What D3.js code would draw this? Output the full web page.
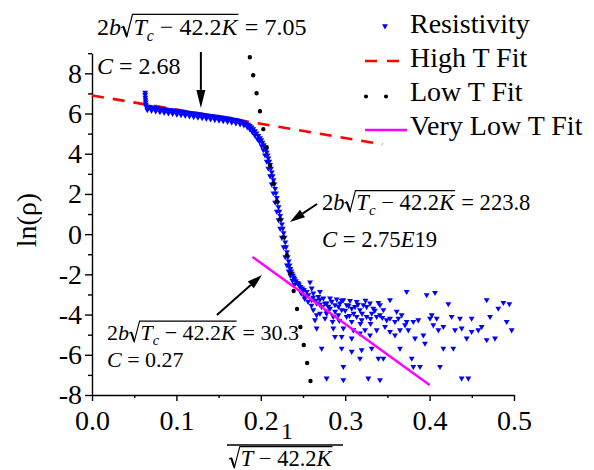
<!DOCTYPE html>
<html><head><meta charset="utf-8">
<script src="https://cdn.jsdelivr.net/npm/d3@7"></script>
<style>html,body{margin:0;padding:0;background:#fff;} svg{display:block;font-family:"Liberation Serif","Times New Roman",serif;}</style>
</head><body><svg id="c" width="594" height="470"></svg>
<script>
// ---------- data ----------
const xTicks = [0, 0.1, 0.2, 0.3, 0.4, 0.5];
const xMinor = [0.05, 0.15, 0.25, 0.35, 0.45];
const yTicks = [-8, -6, -4, -2, 0, 2, 4, 6, 8];
const yMinor = [-7, -5, -3, -1, 1, 3, 5, 7, 9];

// dense part of the resistivity curve (centre of the band)
const curveX = [0.0630,0.0630,0.0632,0.0634,0.0636,0.0638,0.0640,0.0660,0.0680,0.0700,0.0725,0.0750,0.0775,0.0800,0.0825,0.0850,0.0875,0.0900,0.0925,0.0950,0.0975,0.1000,0.1025,0.1050,0.1075,0.1100,0.1125,0.1150,0.1175,0.1200,0.1225,0.1250,0.1275,0.1300,0.1325,0.1350,0.1375,0.1400,0.1425,0.1450,0.1475,0.1500,0.1525,0.1550,0.1575,0.1600,0.1625,0.1650,0.1675,0.1700,0.1725,0.1750,0.1775,0.1800,0.1825,0.1850,0.1870,0.1890,0.1910,0.1930,0.1950,0.1970,0.1990,0.2005,0.2020,0.2035,0.2050,0.2060,0.2070,0.2080,0.2090,0.2100,0.2110,0.2120,0.2130,0.2140,0.2150,0.2160,0.2170,0.2180,0.2190,0.2200,0.2210,0.2220,0.2230,0.2240,0.2250,0.2260,0.2270,0.2280,0.2290,0.2300,0.2310,0.2320,0.2330,0.2340,0.2350,0.2360,0.2370,0.2380,0.2390,0.2400,0.2415,0.2430,0.2450,0.2470,0.2490,0.2510];
const curveY = [7.05,6.93,6.80,6.68,6.56,6.45,6.37,6.35,6.34,6.32,6.30,6.29,6.27,6.25,6.24,6.22,6.21,6.19,6.18,6.16,6.15,6.13,6.12,6.10,6.09,6.07,6.06,6.04,6.03,6.01,6.00,5.98,5.97,5.95,5.94,5.92,5.91,5.89,5.88,5.86,5.85,5.83,5.82,5.80,5.78,5.77,5.75,5.73,5.71,5.69,5.67,5.64,5.61,5.57,5.52,5.46,5.40,5.32,5.23,5.13,5.02,4.90,4.78,4.68,4.56,4.44,4.30,4.19,4.07,3.93,3.78,3.62,3.45,3.27,3.08,2.89,2.70,2.48,2.26,2.04,1.81,1.58,1.35,1.13,0.92,0.71,0.50,0.28,0.06,-0.17,-0.40,-0.64,-0.88,-1.13,-1.35,-1.55,-1.72,-1.84,-1.96,-2.06,-2.15,-2.23,-2.33,-2.42,-2.52,-2.61,-2.69,-2.77];

// lower / left edge of the same dense band
const bandX = [0.0655,0.0705,0.0755,0.0805,0.0855,0.0905,0.0955,0.1005,0.1055,0.1105,0.1155,0.1205,0.1255,0.1305,0.1355,0.1405,0.1455,0.1505,0.1555,0.1605,0.1655,0.1705,0.1755,0.1800,0.1840,0.1870,0.1900,0.1930,0.1960,0.1985,0.2010,0.2030,0.2050,0.2070,0.2090,0.2110,0.2130,0.2150,0.2170,0.2190,0.2210,0.2230,0.2250,0.2270,0.2290,0.2310,0.2330,0.2350,0.2375,0.2400];
const bandY = [6.18,6.15,6.12,6.08,6.05,6.02,5.99,5.96,5.93,5.90,5.87,5.84,5.81,5.78,5.75,5.72,5.69,5.66,5.63,5.60,5.56,5.52,5.47,5.43,5.33,5.22,5.08,4.92,4.74,4.60,4.39,4.19,3.93,3.62,3.27,2.89,2.48,2.04,1.58,1.13,0.71,0.28,-0.17,-0.64,-1.13,-1.55,-1.84,-2.06,-2.30,-2.50];

// scattered low-temperature points
const scatterX = [0.2583,0.2701,0.2622,0.2544,0.2681,0.2741,0.2820,0.2899,0.2978,0.3057,0.3136,0.3215,0.3294,0.3393,0.3531,0.3728,0.3965,0.4064,0.4222,0.4676,0.4874,0.4945,0.4814,0.4716,0.4498,0.4360,0.4261,0.4084,0.4025,0.4005,0.3866,0.3807,0.3728,0.3709,0.3610,0.3590,0.3491,0.3412,0.3373,0.3314,0.3254,0.3195,0.3136,0.3077,0.3017,0.2958,0.2919,0.2859,0.2761,0.2662,0.2642,0.2662,0.2859,0.2978,0.3096,0.2879,0.2958,0.3077,0.3175,0.3235,0.3294,0.3373,0.3472,0.3531,0.3590,0.3649,0.3748,0.3827,0.3926,0.3945,0.4044,0.4163,0.4301,0.4380,0.4439,0.4498,0.4577,0.4617,0.4676,0.4775,0.4972,0.4913,0.4104,0.2721,0.2958,0.3077,0.3195,0.3175,0.3314,0.3393,0.3452,0.3649,0.3788,0.3807,0.3886,0.4123,0.4163,0.4281,0.2978,0.2780,0.2978,0.3274,0.3412,0.4380,0.4459,0.2464,0.2504,0.2563,0.2603,0.2662,0.2721,0.2780,0.2820,0.2879,0.2938,0.3017,0.3077,0.3116,0.3175,0.2622,0.2701,0.2780,0.2445,0.2524,0.2603,0.3254,0.3333,0.3452,0.3412,0.3531,0.3630,0.3669,
  0.2480,0.2520,0.2560,0.2600,0.2650,0.2700,0.2760,0.2800,0.2840,0.2880,0.2920,0.2960,0.3000,0.3040,0.3100,0.3150,0.3200,0.3240,0.3300,0.3350,0.2700,0.2550,0.2620,0.2780,0.2850,0.2930,0.3050,0.3180,0.3300,0.3440];
const scatterY = [-2.39,-2.86,-2.94,-2.86,-3.11,-3.19,-3.19,-3.24,-3.27,-3.31,-3.36,-3.52,-3.44,-3.41,-3.27,-2.86,-3.02,-2.91,-3.47,-3.27,-3.41,-3.47,-3.69,-4.10,-4.19,-4.19,-4.10,-4.19,-4.02,-4.19,-4.27,-4.35,-4.35,-4.52,-3.85,-4.35,-4.27,-4.02,-4.10,-3.94,-4.10,-4.27,-4.10,-4.35,-4.10,-3.77,-4.02,-4.10,-4.19,-4.02,-4.27,-4.68,-4.68,-4.68,-4.77,-5.10,-5.10,-5.18,-4.93,-4.77,-5.02,-4.77,-4.60,-4.85,-5.02,-4.77,-4.77,-5.18,-5.02,-5.43,-4.52,-4.60,-4.77,-4.68,-5.18,-4.85,-4.77,-4.60,-5.26,-5.18,-4.77,-4.35,-4.77,-5.68,-5.68,-5.84,-5.76,-6.18,-5.68,-6.18,-6.18,-5.68,-6.18,-6.59,-6.59,-6.59,-5.68,-5.68,-6.59,-7.17,-7.25,-7.17,-7.25,-7.17,-7.17,-2.61,-2.78,-3.02,-3.27,-3.44,-3.61,-3.44,-3.69,-3.52,-3.44,-3.52,-3.69,-3.61,-3.77,-3.77,-3.94,-3.85,-2.44,-3.11,-2.69,-3.61,-3.69,-3.77,-3.52,-4.19,-4.19,-4.02,
  -2.95,-3.20,-3.35,-3.55,-3.30,-3.25,-3.45,-3.60,-3.35,-3.85,-3.60,-3.30,-3.80,-3.55,-3.95,-3.50,-3.95,-3.30,-4.20,-3.80,-3.50,-3.05,-3.15,-3.95,-4.35,-4.30,-4.05,-4.45,-4.45,-4.15];

// fit lines (end points)
const highFitX = [0.0, 0.344],  highFitY = [6.90, 4.47];
const lowFitX  = [0.187, 0.262], lowFitY  = [8.80, -8.0];
const vlowFitX = [0.190, 0.400], vlowFitY = [-1.13, -7.50];

const legendLabels = ["Resistivity", "High T Fit", "Low T Fit", "Very Low T Fit"];

// annotation arrows (data coordinates: tail -> head)
const arrowTail = [[0.129, 9.06], [0.2666, 1.50], [0.148, -4.02]];
const arrowHead = [[0.129, 6.28], [0.2346, 0.61], [0.2014, -2.03]];

// ---------- drawing ----------
const svg = d3.select("#c");
const x = d3.scaleLinear([0, 0.5], [92, 514]);
const y = d3.scaleLinear([-8, 9], [395, 53.2]);
const FONT = '"Liberation Serif","Times New Roman",serif';

// axes
svg.append("g").attr("transform", `translate(0,${y(-8)})`)
  .call(d3.axisBottom(x).tickValues(xTicks).tickSize(6).tickSizeOuter(0).tickPadding(9).tickFormat(d3.format(".1f")));
svg.append("g").attr("transform", `translate(0,${y(-8)})`)
  .call(d3.axisBottom(x).tickValues(xMinor).tickSize(3).tickSizeOuter(0).tickFormat(""))
  .select(".domain").remove();
svg.append("g").attr("transform", `translate(${x(0)},0)`)
  .call(d3.axisLeft(y).tickValues(yTicks).tickSize(7).tickSizeOuter(0).tickPadding(3).tickFormat(d => String(d)));
svg.append("g").attr("transform", `translate(${x(0)},0)`)
  .call(d3.axisLeft(y).tickValues(yMinor).tickSize(4).tickSizeOuter(0).tickFormat(""))
  .select(".domain").remove();
svg.selectAll(".domain").attr("stroke", "#000").attr("stroke-width", 1.4);
svg.selectAll(".tick line").attr("stroke", "#000").attr("stroke-width", 1.4);
svg.selectAll(".tick text").attr("font-family", FONT).attr("font-size", 28).attr("fill", "#000");

// fit lines
const line = d3.line().x(d => x(d[0])).y(d => y(d[1]));
svg.append("path").datum(d3.zip(highFitX, highFitY)).attr("d", line)
  .attr("stroke", "#ff0000").attr("stroke-width", 2.6).attr("stroke-dasharray", "12,9").attr("fill", "none");

// resistivity points
const tri = d3.symbol().type(d3.symbolTriangle).size(15);
const pts = d3.zip(curveX, curveY).concat(d3.zip(bandX, bandY), d3.zip(scatterX, scatterY));
svg.append("g").selectAll("path").data(pts).join("path")
  .attr("d", tri).attr("fill", "#0000ff")
  .attr("transform", d => `translate(${x(d[0])},${y(d[1])}) rotate(180)`);

svg.append("path").datum(d3.zip(lowFitX, lowFitY)).attr("d", line)
  .attr("stroke", "#000").attr("stroke-width", 4.4).attr("stroke-linecap", "round").attr("stroke-dasharray", "0,18.3").attr("fill", "none");
svg.append("path").datum(d3.zip(vlowFitX, vlowFitY)).attr("d", line)
  .attr("stroke", "#ff00ff").attr("stroke-width", 2.4).attr("fill", "none");

// legend
const lg = svg.append("g").attr("font-family", FONT).attr("font-size", 28);
const lgBase = [33, 67, 101, 135];
legendLabels.forEach((t, i) => {
  lg.append("text").attr("x", 410).attr("y", lgBase[i]).text(t);
});
lg.append("path").attr("d", tri).attr("fill", "#0000ff").attr("transform", `translate(385,${lgBase[0]-7}) rotate(180)`);
lg.append("line").attr("x1", 365).attr("x2", 401).attr("y1", lgBase[1]-6).attr("y2", lgBase[1]-6)
  .attr("stroke", "#ff0000").attr("stroke-width", 2.6).attr("stroke-dasharray", "12,10");
lg.append("line").attr("x1", 366).attr("x2", 406).attr("y1", lgBase[2]-4.5).attr("y2", lgBase[2]-4.5)
  .attr("stroke", "#000").attr("stroke-width", 4.2).attr("stroke-linecap", "round").attr("stroke-dasharray", "0,20");
lg.append("line").attr("x1", 365).attr("x2", 407).attr("y1", lgBase[3]-5).attr("y2", lgBase[3]-5)
  .attr("stroke", "#ff00ff").attr("stroke-width", 2.4);

// y-axis title
svg.append("text").attr("transform", "translate(36,220) rotate(-90)").attr("text-anchor", "middle")
  .attr("font-family", FONT).attr("font-size", 28).text("ln(ρ)");

// equation helper
function eq(x0, y0, fs, parts) {
  const g = svg.append("g").attr("font-family", FONT).attr("fill", "#000");
  let cx = x0, radStart = null;
  parts.forEach(p => {
    if (p.rad === "open") { radStart = cx; cx += fs * 0.52; return; }
    if (p.rad === "close") {
      const top = y0 - fs * 0.86;
      g.append("path").attr("d",
        `M${radStart},${y0 - fs*0.30} L${radStart + fs*0.09},${y0 - fs*0.36} L${radStart + fs*0.24},${y0 + fs*0.06} L${radStart + fs*0.48},${top} L${cx + fs*0.04},${top}`)
        .attr("fill", "none").attr("stroke", "#000").attr("stroke-width", fs*0.05).attr("stroke-linejoin", "miter");
      g.append("line").attr("x1", radStart + fs*0.1).attr("y1", y0 - fs*0.35).attr("x2", radStart + fs*0.24).attr("y2", y0 + fs*0.06)
        .attr("stroke", "#000").attr("stroke-width", fs*0.09);
      cx += fs * 0.06; return;
    }
    const t = g.append("text").attr("x", cx).attr("y", y0 + (p.sub ? fs * 0.24 : 0))
      .attr("font-size", p.sub ? fs * 0.66 : fs).attr("font-style", p.it ? "italic" : "normal")
      .attr("xml:space", "preserve").style("white-space", "pre").text(p.t);
    cx += t.node().getComputedTextLength();
  });
  return cx;
}
const radExpr = [{t:"2"},{t:"b",it:1},{rad:"open"},{t:"T",it:1},{t:"c",it:1,sub:1},{t:" − 42.2"},{t:"K",it:1},{rad:"close"}];
const annot = [
  {x: 97,  y: 35,  fs: 24,   val: "7.05",  c: "2.68",    cy: 74},
  {x: 322, y: 210, fs: 22.6, val: "223.8", c: "2.75E19", cy: 247},
  {x: 107, y: 340, fs: 22,   val: "30.3",  c: "0.27",    cy: 367}
];
annot.forEach(a => {
  eq(a.x, a.y, a.fs, radExpr.concat([{t:" = " + a.val}]));
  const cParts = [{t:"C",it:1},{t:" = "}];
  if (a.c.includes("E")) { const [m, e] = a.c.split("E"); cParts.push({t:m},{t:"E",it:1},{t:e}); }
  else cParts.push({t:a.c});
  eq(a.x, a.cy, a.fs, cParts);
});

// arrows
arrowTail.forEach((tp, i) => {
  const x1 = x(tp[0]), y1 = y(tp[1]), x2 = x(arrowHead[i][0]), y2 = y(arrowHead[i][1]);
  const L = i === 0 ? 18 : 15, W = 4.5;
  const dx = x2 - x1, dy = y2 - y1, len = Math.hypot(dx, dy), ux = dx/len, uy = dy/len;
  const bx = x2 - ux*L, by = y2 - uy*L;
  svg.append("line").attr("x1", x1).attr("y1", y1).attr("x2", bx).attr("y2", by).attr("stroke", "#000").attr("stroke-width", 2);
  svg.append("path").attr("d", `M${x2},${y2} L${bx - uy*W},${by + ux*W} L${bx + uy*W},${by - ux*W} Z`).attr("fill", "#000");
});

// x-axis title: 1 / sqrt(T - 42.2K)
svg.append("text").attr("x", 287).attr("y", 439).attr("text-anchor", "middle").attr("font-family", FONT).attr("font-size", 24).text("1");
svg.append("line").attr("x1", 227).attr("x2", 343).attr("y1", 445).attr("y2", 445).attr("stroke", "#000").attr("stroke-width", 1.3);
eq(229, 466, 22.5, [{rad:"open"},{t:"T",it:1},{t:" − 42.2"},{t:"K",it:1},{rad:"close"}]);
</script></body></html>
